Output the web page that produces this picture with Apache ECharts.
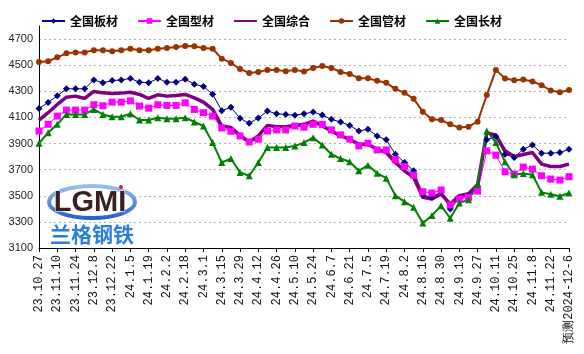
<!DOCTYPE html>
<html>
<head>
<meta charset="utf-8">
<title>全国钢材价格走势</title>
<script src="https://cdn.jsdelivr.net/npm/echarts/dist/echarts.min.js"></script>
<style>
    html, body { margin: 0; padding: 0; background: #fff; }
    #main { width: 584px; height: 354px; }
</style>
</head>
<body>
<div id="main"></div>
<script>
// 周度日期(每周一个点, 最后一个为预测)
var dates = ['23.10.27', '23.11.3', '23.11.10', '23.11.17', '23.11.24', '23.12.1', '23.12.8', '23.12.15', '23.12.22', '23.12.29',
    '24.1.5', '24.1.12', '24.1.19', '24.1.26', '24.2.2', '24.2.9', '24.2.18', '24.2.23', '24.3.1', '24.3.8',
    '24.3.15', '24.3.22', '24.3.29', '24.4.5', '24.4.12', '24.4.19', '24.4.26', '24.5.3', '24.5.10', '24.5.17',
    '24.5.24', '24.5.31', '24.6.7', '24.6.14', '24.6.21', '24.6.28', '24.7.5', '24.7.12', '24.7.19', '24.7.26',
    '24.8.2', '24.8.9', '24.8.16', '24.8.23', '24.8.30', '24.9.6', '24.9.13', '24.9.20', '24.9.27', '24.10.4',
    '24.10.11', '24.10.18', '24.10.25', '24.11.1', '24.11.8', '24.11.15', '24.11.22', '24.11.29', '预测2024-12-6'];

// 全国板材
var board = [4169, 4215, 4265, 4319, 4319, 4319, 4387, 4365, 4382, 4387,
    4398, 4370, 4365, 4398, 4370, 4370, 4393, 4354, 4337, 4278,
    4151, 4177, 4093, 4055, 4095, 4149, 4128, 4123, 4116, 4128,
    4141, 4118, 4085, 4065, 4039, 3996, 4009, 3958, 3928, 3818,
    3755, 3691, 3506, 3488, 3531, 3399, 3480, 3501, 3572, 3928,
    3953, 3818, 3793, 3856, 3889, 3826, 3826, 3831, 3856];
// 全国型材
var profile = [3996, 4047, 4110, 4156, 4156, 4156, 4197, 4189, 4217, 4217,
    4227, 4187, 4171, 4197, 4192, 4192, 4212, 4161, 4136, 4110,
    4019, 3994, 3958, 3912, 3933, 3996, 4004, 4004, 4034, 4025,
    4047, 4047, 4004, 3966, 3933, 3882, 3902, 3851, 3851, 3775,
    3724, 3658, 3531, 3521, 3544, 3430, 3475, 3488, 3536, 3844,
    3811, 3684, 3666, 3719, 3704, 3653, 3628, 3620, 3646];
// 全国综合
var composite = [4080, 4136, 4199, 4255, 4263, 4245, 4299, 4288, 4283, 4286,
    4293, 4276, 4245, 4273, 4263, 4268, 4276, 4250, 4217, 4161,
    4034, 4022, 3963, 3912, 3958, 4039, 4029, 4029, 4039, 4047,
    4072, 4034, 3996, 3958, 3933, 3894, 3894, 3856, 3831, 3755,
    3691, 3640, 3488, 3475, 3513, 3437, 3501, 3516, 3585, 3983,
    3963, 3844, 3800, 3816, 3831, 3742, 3724, 3724, 3742];
// 全国管材
var pipe = [4525, 4530, 4560, 4591, 4598, 4598, 4614, 4614, 4606, 4614,
    4626, 4614, 4614, 4626, 4631, 4639, 4647, 4644, 4631, 4626,
    4550, 4517, 4471, 4441, 4448, 4464, 4464, 4454, 4464, 4452,
    4479, 4494, 4479, 4448, 4433, 4400, 4400, 4380, 4365, 4319,
    4288, 4243, 4144, 4085, 4080, 4047, 4022, 4029, 4067, 4271,
    4464, 4398, 4385, 4390, 4375, 4347, 4306, 4293, 4309];
// 全国长材
var longSteel = [3902, 3983, 4047, 4123, 4123, 4123, 4161, 4123, 4105, 4105,
    4128, 4080, 4080, 4098, 4090, 4090, 4098, 4065, 4034, 3907,
    3755, 3785, 3679, 3653, 3755, 3869, 3869, 3869, 3882, 3907,
    3945, 3889, 3818, 3785, 3760, 3691, 3734, 3673, 3635, 3501,
    3455, 3412, 3292, 3348, 3424, 3328, 3445, 3470, 3590, 3996,
    3907, 3760, 3661, 3671, 3661, 3526, 3511, 3496, 3521];

var chart = echarts.init(document.getElementById('main'), null, {renderer: 'canvas'});

var cjk = '"Noto Sans CJK SC", sans-serif';

chart.setOption({
    animation: false,
    backgroundColor: '#fff',
    legend: {
        top: 10,
        left: 36,
        itemWidth: 23,
        itemHeight: 7,
        itemGap: 19,
        textStyle: {fontFamily: cjk, fontSize: 12, fontWeight: 'bold', color: '#000'},
        data: ['全国板材', '全国型材', '全国综合', '全国管材', '全国长材']
    },
    grid: {left: 39, right: 15, top: 26, bottom: 106, outerBoundsMode: 'none'},
    xAxis: {
        type: 'category',
        boundaryGap: false,
        data: dates,
        axisLine: {lineStyle: {color: '#000', width: 1}},
        axisTick: {interval: 1, length: 4, lineStyle: {color: '#000'}},
        axisLabel: {
            interval: 1,
            rotate: 90,
            margin: 7,
            fontFamily: '"Liberation Mono", monospace',
            fontSize: 12,
            color: '#111'
        },
        splitLine: {show: false}
    },
    yAxis: {
        type: 'value',
        min: 3100,
        max: 4800,
        interval: 200,
        axisLine: {show: true, lineStyle: {color: '#000', width: 1}},
        axisTick: {show: false},
        axisLabel: {
            margin: 6,
            fontFamily: 'Arial, "Liberation Sans", sans-serif',
            fontSize: 11,
            color: '#222',
            formatter: function (v) {
                return v > 4700 ? '' : v;
            }
        },
        splitLine: {showMaxLine: false, lineStyle: {color: '#b4b4b4', type: [2, 3], width: 1}}
    },
    // 兰格钢铁 logo
    graphic: [
        {
            type: 'ellipse',
            shape: {cx: 92, cy: 202, rx: 43, ry: 16},
            style: {
                fill: '#fff',
                stroke: new echarts.graphic.LinearGradient(0, 0, 0, 1, [
                    {offset: 0, color: '#9cc4f0'},
                    {offset: 1, color: '#1f5fc4'}
                ]),
                lineWidth: 4
            },
            z: 1
        },
        {
            type: 'text',
            x: 90, y: 203,
            style: {
                text: 'LGMI', font: 'bold 29px "Liberation Sans", Arial, sans-serif',
                fill: '#3a2020', stroke: '#fff', lineWidth: 1, align: 'center', verticalAlign: 'middle'
            },
            z: 2
        },
        {
            type: 'circle',
            shape: {cx: 121, cy: 187, r: 2},
            style: {fill: '#e02020'},
            z: 2
        },
        {
            type: 'text',
            x: 92, y: 234,
            style: {
                text: '兰格钢铁', font: 'bold 21px "Noto Sans CJK SC", sans-serif',
                fill: '#2a7fd8', align: 'center', verticalAlign: 'middle'
            },
            z: 1
        }
    ],
    series: [
        {
            name: '全国板材', type: 'line', data: board, showAllSymbol: true,
            symbol: 'diamond', symbolSize: 7, color: '#000080',
            lineStyle: {width: 1, color: '#000080'}, itemStyle: {color: '#000080'}
        },
        {
            name: '全国型材', type: 'line', data: profile, showAllSymbol: true,
            symbol: 'rect', symbolSize: 7, color: '#ff00ff',
            lineStyle: {width: 1, color: '#ff00ff'}, itemStyle: {color: '#ff00ff'}
        },
        {
            name: '全国综合', type: 'line', data: composite,
            symbol: 'none', color: '#800080',
            lineStyle: {width: 3.5, color: '#800080'}, itemStyle: {color: '#800080', opacity: 0}
        },
        {
            name: '全国管材', type: 'line', data: pipe, showAllSymbol: true,
            symbol: 'circle', symbolSize: 6, color: '#993300',
            lineStyle: {width: 2, color: '#993300'}, itemStyle: {color: '#993300'}
        },
        {
            name: '全国长材', type: 'line', data: longSteel, showAllSymbol: true,
            symbol: 'triangle', symbolSize: 7, color: '#008000',
            lineStyle: {width: 2, color: '#008000'}, itemStyle: {color: '#008000'}
        }
    ]
});
</script>
</body>
</html>
